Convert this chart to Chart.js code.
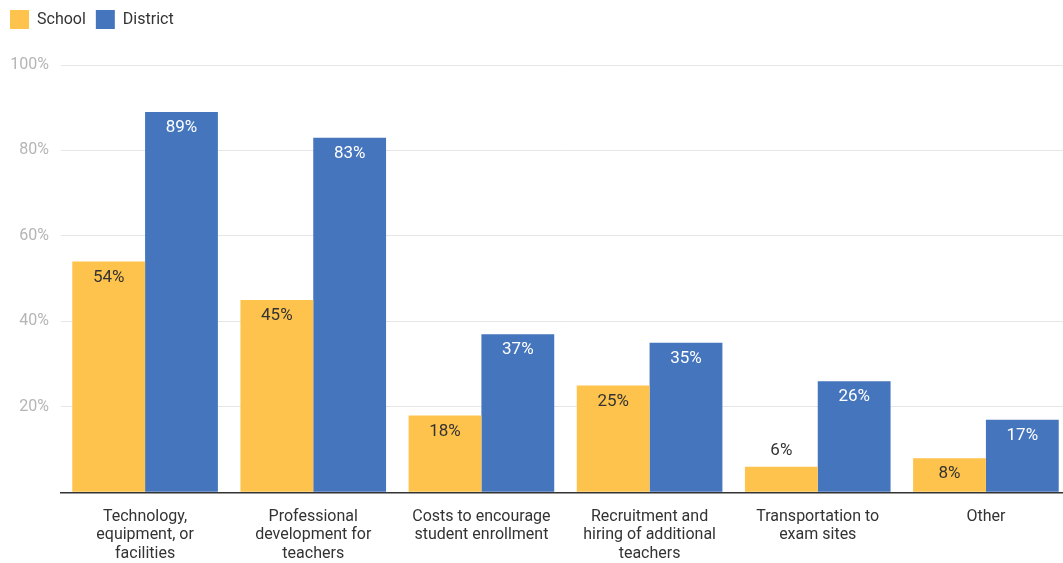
<!DOCTYPE html>
<html>
<head>
<meta charset="utf-8">
<script src="https://cdn.jsdelivr.net/npm/chart.js@4"></script>
<style>
  html, body { margin: 0; padding: 0; background: #fff; overflow: hidden; }
  #wrap { width: 1063px; height: 563px; overflow: hidden; }
</style>
</head>
<body>
<!-- canvas is a little wider than the frame: the last group runs past the right edge -->
<div id="wrap"><canvas id="chart" width="1070" height="563"></canvas></div>
<script>
// Uses of funds, school vs district (percent of respondents)
const categories = [
    ['Technology,', 'equipment, or', 'facilities'],
    ['Professional', 'development for', 'teachers'],
    ['Costs to encourage', 'student enrollment'],
    ['Recruitment and', 'hiring of additional', 'teachers'],
    ['Transportation to', 'exam sites'],
    ['Other']
];
const schoolValues = [54, 45, 18, 25, 6, 8];
const districtValues = [89, 83, 37, 35, 26, 17];
const yTicks = [0, 20, 40, 60, 80, 100];

const ORANGE = '#fec34d';
const BLUE = '#4575bd';
const FONT = "Roboto, 'Noto Sans', Arial, sans-serif";

// value labels: inside the top of the bar when it is tall enough, above it otherwise
const barLabels = {
    id: 'barLabels',
    afterDatasetsDraw(chart) {
        const ctx = chart.ctx;
        ctx.save();
        ctx.font = '17px ' + FONT;
        ctx.textAlign = 'center';
        ctx.textBaseline = 'middle';
        chart.data.datasets.forEach((ds, di) => {
            const meta = chart.getDatasetMeta(di);
            meta.data.forEach((bar, i) => {
                const text = ds.data[i] + '%';
                const h = bar.base - bar.y;
                if (h > 30) {
                    ctx.fillStyle = ds.labelColor;
                    ctx.fillText(text, bar.x, bar.y + 16);
                } else {
                    ctx.fillStyle = '#333';
                    ctx.fillText(text, bar.x, bar.y - 16);
                }
            });
        });
        ctx.restore();
    }
};

// extra room between the legend and the plot
const legendGap = {
    id: 'legendGap',
    beforeInit(chart) {
        const fit = chart.legend.fit;
        chart.legend.fit = function () {
            fit.call(this);
            this.height += 26;
        };
    }
};

new Chart(document.getElementById('chart'), {
    type: 'bar',
    data: {
        labels: categories,
        datasets: [
            { label: 'School', data: schoolValues, backgroundColor: ORANGE, labelColor: '#333' },
            { label: 'District', data: districtValues, backgroundColor: BLUE, labelColor: '#fff' }
        ]
    },
    options: {
        responsive: false,
        animation: false,
        categoryPercentage: 0.866,
        barPercentage: 1.0,
        layout: { padding: 0 },
        plugins: {
            tooltip: { enabled: false },
            legend: {
                position: 'top',
                align: 'start',
                labels: {
                    boxWidth: 19,
                    boxHeight: 19,
                    padding: 10,
                    color: '#333',
                    font: { family: FONT, size: 16 }
                }
            }
        },
        scales: {
            x: {
                grid: { display: false },
                border: { color: '#333', width: 1.5 },
                afterFit(scale) { scale.height -= 7; },
                ticks: {
                    color: '#333',
                    font: { family: FONT, size: 16, lineHeight: 1.16 },
                    padding: 7,
                    maxRotation: 0,
                    autoSkip: false
                }
            },
            y: {
                min: 0,
                max: 100,
                afterBuildTicks(axis) {
                    axis.ticks = yTicks.map(v => ({ value: v }));
                },
                afterFit(scale) { scale.width = 61; },
                grid: { color: '#e6e6e6', drawTicks: false, lineWidth: 1 },
                border: { display: false },
                ticks: {
                    color: '#b5b5b5',
                    padding: 12,
                    font: { family: FONT, size: 16 },
                    callback: v => v === 0 ? '' : v + '%'
                }
            }
        }
    },
    plugins: [barLabels, legendGap]
});
</script>
</body>
</html>
